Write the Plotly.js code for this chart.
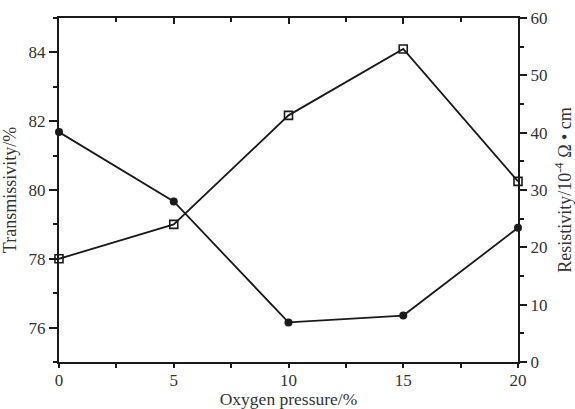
<!DOCTYPE html>
<html>
<head>
<meta charset="utf-8">
<script src="https://cdn.plot.ly/plotly-3.0.1.min.js"></script>
<style>html,body{margin:0;padding:0;background:#fff;}#chart{width:575px;height:409px;}</style>
</head>
<body>
<div id="chart"></div>
<script>
const oxygenPressure = [0, 5, 10, 15, 20];
const transmissivity = [78.0, 79.0, 82.17, 84.1, 80.25];
const resistivity = [40.1, 28.0, 6.9, 8.1, 23.4];

const font = {family: '"Liberation Serif", "Times New Roman", serif', size: 17, color: '#333'};

const traces = [
  {
    x: oxygenPressure, y: transmissivity, xaxis: 'x', yaxis: 'y',
    mode: 'lines+markers', type: 'scatter', name: 'Transmissivity',
    line: {color: '#1a1a1a', width: 1.8},
    marker: {symbol: 'square-open', size: 8, color: '#1a1a1a', line: {width: 1.6, color: '#1a1a1a'}},
    cliponaxis: false
  },
  {
    x: oxygenPressure, y: resistivity, xaxis: 'x2', yaxis: 'y2',
    mode: 'lines+markers', type: 'scatter', name: 'Resistivity',
    line: {color: '#1a1a1a', width: 1.8},
    marker: {symbol: 'circle', size: 8, color: '#1a1a1a'},
    cliponaxis: false
  }
];

const axisCommon = {
  showline: true, linecolor: '#1a1a1a', linewidth: 2,
  showgrid: false, zeroline: false,
  tickcolor: '#1a1a1a', tickwidth: 2,
  tickfont: font
};

const layout = {
  width: 575, height: 409,
  margin: {l: 59, r: 57, t: 18, b: 47},
  paper_bgcolor: '#fff', plot_bgcolor: '#fff',
  showlegend: false,
  font: font,
  xaxis: Object.assign({}, axisCommon, {
    range: [0, 20], tick0: 0, dtick: 5, ticks: 'outside', ticklen: 4,
    ticklabelstandoff: -2,
    minor: {dtick: 2.5, ticks: 'outside', ticklen: 4, tickcolor: '#1a1a1a', tickwidth: 2},
    title: {text: 'Oxygen pressure/%', font: {family: font.family, size: 17.5, color: '#333'}},
    anchor: 'y'
  }),
  xaxis2: Object.assign({}, axisCommon, {
    range: [0, 20], tick0: 0, dtick: 5, ticks: 'inside', ticklen: 6,
    minor: {dtick: 2.5, ticks: 'inside', ticklen: 4, tickcolor: '#1a1a1a', tickwidth: 2},
    showticklabels: false, overlaying: 'x', side: 'top', anchor: 'y2'
  }),
  yaxis: Object.assign({}, axisCommon, {
    range: [75, 85], tick0: 0, dtick: 2, ticks: 'outside', ticklen: 8,
    minor: {dtick: 1, ticks: 'outside', ticklen: 4, tickcolor: '#1a1a1a', tickwidth: 2},
    title: {text: 'Transmissivity/%', font: {family: font.family, size: 18, color: '#333'}},
    anchor: 'x'
  }),
  yaxis2: Object.assign({}, axisCommon, {
    range: [0, 60], tick0: 0, dtick: 10, ticks: 'outside', ticklen: 7,
    minor: {dtick: 5, ticks: 'outside', ticklen: 4, tickcolor: '#1a1a1a', tickwidth: 2},
    title: {text: 'Resistivity/10<sup>-4</sup> Ω • cm', font: {family: font.family, size: 18, color: '#333'}},
    overlaying: 'y', side: 'right', anchor: 'x2'
  })
};

Plotly.newPlot('chart', traces, layout, {staticPlot: true, displayModeBar: false});
</script>
</body>
</html>
